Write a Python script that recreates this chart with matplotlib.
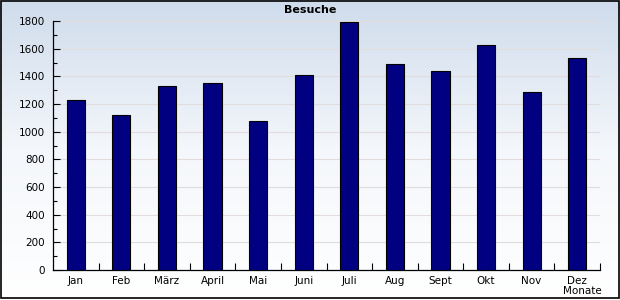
import numpy as np
import matplotlib.pyplot as plt
from matplotlib.colors import LinearSegmentedColormap
from matplotlib.ticker import MultipleLocator

# data
monate = ['Jan', 'Feb', 'März', 'April', 'Mai', 'Juni', 'Juli', 'Aug', 'Sept', 'Okt', 'Nov', 'Dez']
besuche = [1230, 1120, 1330, 1350, 1080, 1410, 1790, 1490, 1440, 1630, 1290, 1530]

fig = plt.figure(figsize=(6.2, 3.0), dpi=100)

# background gradient over whole figure
bg = fig.add_axes([0, 0, 1, 1], zorder=-10)
cmap = LinearSegmentedColormap.from_list('bg', ['#ffffff', '#f4f7fb', '#cfdcec'])
grad = np.linspace(0, 1, 256).reshape(-1, 1)
bg.imshow(grad, aspect='auto', cmap=cmap, origin='lower', extent=[0, 620, 0, 300])
bg.set_xlim(0, 620); bg.set_ylim(0, 300)
bg.axis('off')
# frame round the chart (pixel coords)
bg.add_patch(plt.Rectangle((1, 2.5), 617.5, 297, fill=False, ec='black', lw=1.2))

ax = fig.add_axes([53/620, 30/300, 547/620, 249/300])
ax.patch.set_alpha(0)

x = np.arange(len(monate))
ax.bar(x, besuche, width=0.4, color='#000080', edgecolor='black', linewidth=0.8, zorder=3)

ax.set_xlim(-0.5, len(monate) - 0.5)
ax.set_ylim(0, 1800)
ax.yaxis.set_major_locator(MultipleLocator(200))
ax.yaxis.set_minor_locator(MultipleLocator(100))
ax.grid(axis='y', color='#e2dcdc', linewidth=0.8, zorder=0)

ax.set_xticks(x)
ax.set_xticklabels(monate)
ax.set_xticks(np.arange(0.5, len(monate)), minor=True)
ax.tick_params(axis='x', which='major', length=0, pad=4, labelsize=7.5)
ax.tick_params(axis='x', which='minor', direction='in', length=5, width=0.8)
ax.tick_params(axis='y', which='major', direction='in', length=5, width=0.8, pad=6, labelsize=7.5)
ax.tick_params(axis='y', which='minor', direction='in', length=3, width=0.8)

for s in ['top', 'right']:
    ax.spines[s].set_visible(False)
for s in ['left', 'bottom']:
    ax.spines[s].set_linewidth(0.9)

fig.text(310/620, 1 - 10/300, 'Besuche', ha='center', va='center', fontsize=8, fontweight='bold')
fig.text(582/620, 1 - 291/300, 'Monate', ha='center', va='center', fontsize=7.5)

fig.savefig('out.png', dpi=100)
